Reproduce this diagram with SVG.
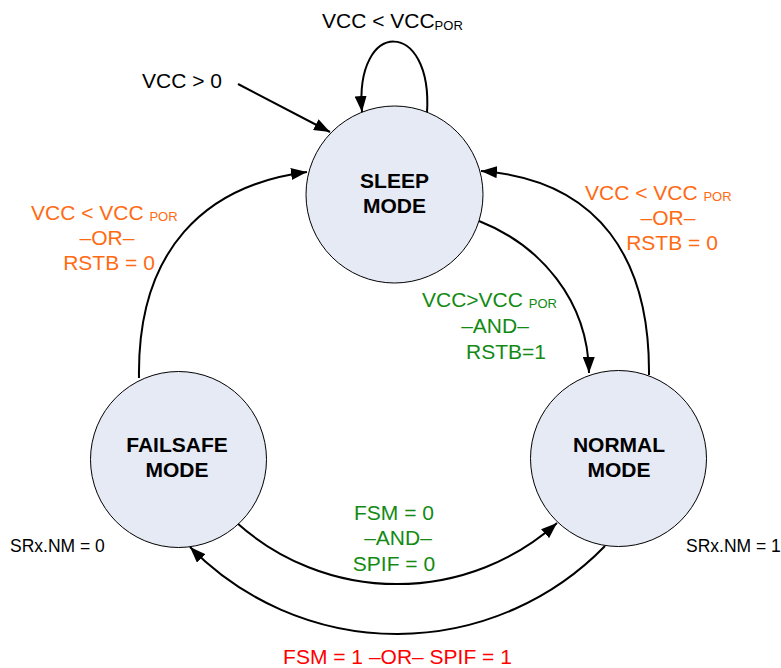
<svg xmlns="http://www.w3.org/2000/svg" width="781" height="668" viewBox="0 0 781 668">
  <style>
    text { font-family: "Liberation Sans", Arial, Helvetica, sans-serif; }
    .state { fill: #e6eaf5; stroke: #000; stroke-width: 1; }
    .title { font-size: 21px; font-weight: bold; fill: #000; text-anchor: middle; }
    .edge { fill: none; stroke: #000; stroke-width: 2; marker-end: url(#arrow); }
    .lbl { font-size: 21px; }
    .blk { fill: #000; }
    .org { fill: #ff6a13; }
    .grn { fill: #138a13; }
    .red { fill: #ff0000; }
    .sub { font-size: 13px; }
    .mid { text-anchor: middle; }
    .note { font-size: 17.5px; fill: #000; }
  </style>
  <defs>
    <marker id="arrow" viewBox="0 0 16 12" refX="16" refY="6" markerWidth="16" markerHeight="12" markerUnits="userSpaceOnUse" orient="auto">
      <path d="M0,0 L16,6 L0,12 z" fill="#000"/>
    </marker>
  </defs>

  <g id="connectors">
    <path id="e-init" class="edge" d="M238,84 L330,132"/>
    <path id="e-sleep-self" class="edge" d="M427,113 C433,18 354,18 362,112"/>
    <path id="e-failsafe-sleep" class="edge" d="M139,378 C137,250 205,185 307,172"/>
    <path id="e-sleep-normal" class="edge" d="M479,221 C540,245 588,300 589,373"/>
    <path id="e-normal-sleep" class="edge" d="M649,375 C650,260 600,180 481,171"/>
    <path id="e-failsafe-normal" class="edge" d="M237,523 A240,240 0 0 0 557,523"/>
    <path id="e-normal-failsafe" class="edge" d="M605,546 A290,290 0 0 1 190,547"/>
  </g>

  <g id="sleep">
    <circle class="state" cx="394.5" cy="194.5" r="88.5"/>
    <text class="title" x="394.5" y="188">SLEEP</text>
    <text class="title" x="394.5" y="213">MODE</text>
  </g>

  <g id="failsafe">
    <circle class="state" cx="178.5" cy="459.5" r="88"/>
    <text class="title" x="177" y="452">FAILSAFE</text>
    <text class="title" x="177" y="477">MODE</text>
  </g>

  <g id="normal">
    <circle class="state" cx="618.5" cy="458.5" r="88"/>
    <text class="title" x="619" y="452">NORMAL</text>
    <text class="title" x="619" y="477">MODE</text>
  </g>

  <g id="labels">
    <text class="lbl blk" x="142" y="88">VCC &gt; 0</text>
    <text class="lbl blk" x="322" y="28">VCC &lt; VCC<tspan class="sub" dy="2">POR</tspan></text>

    <text class="lbl org" x="31" y="220">VCC &lt; VCC <tspan class="sub" dy="1">POR</tspan></text>
    <text class="lbl org mid" x="107" y="245">–OR–</text>
    <text class="lbl org mid" x="109" y="270">RSTB = 0</text>

    <text class="lbl org" x="585" y="200">VCC &lt; VCC <tspan class="sub" dy="1">POR</tspan></text>
    <text class="lbl org mid" x="668" y="225">–OR–</text>
    <text class="lbl org mid" x="672" y="250">RSTB = 0</text>

    <text class="lbl grn" x="422" y="307">VCC&gt;VCC <tspan class="sub" dy="1">POR</tspan></text>
    <text class="lbl grn mid" x="495" y="333">–AND–</text>
    <text class="lbl grn mid" x="506" y="359">RSTB=1</text>

    <text class="lbl grn mid" x="394" y="520">FSM = 0</text>
    <text class="lbl grn mid" x="398" y="545">–AND–</text>
    <text class="lbl grn mid" x="394" y="571">SPIF = 0</text>

    <text class="lbl red mid" x="397.5" y="664">FSM = 1 –OR– SPIF = 1</text>

    <text class="note" x="10" y="552">SRx.NM = 0</text>
    <text class="note" x="686" y="552">SRx.NM = 1</text>
  </g>
</svg>
